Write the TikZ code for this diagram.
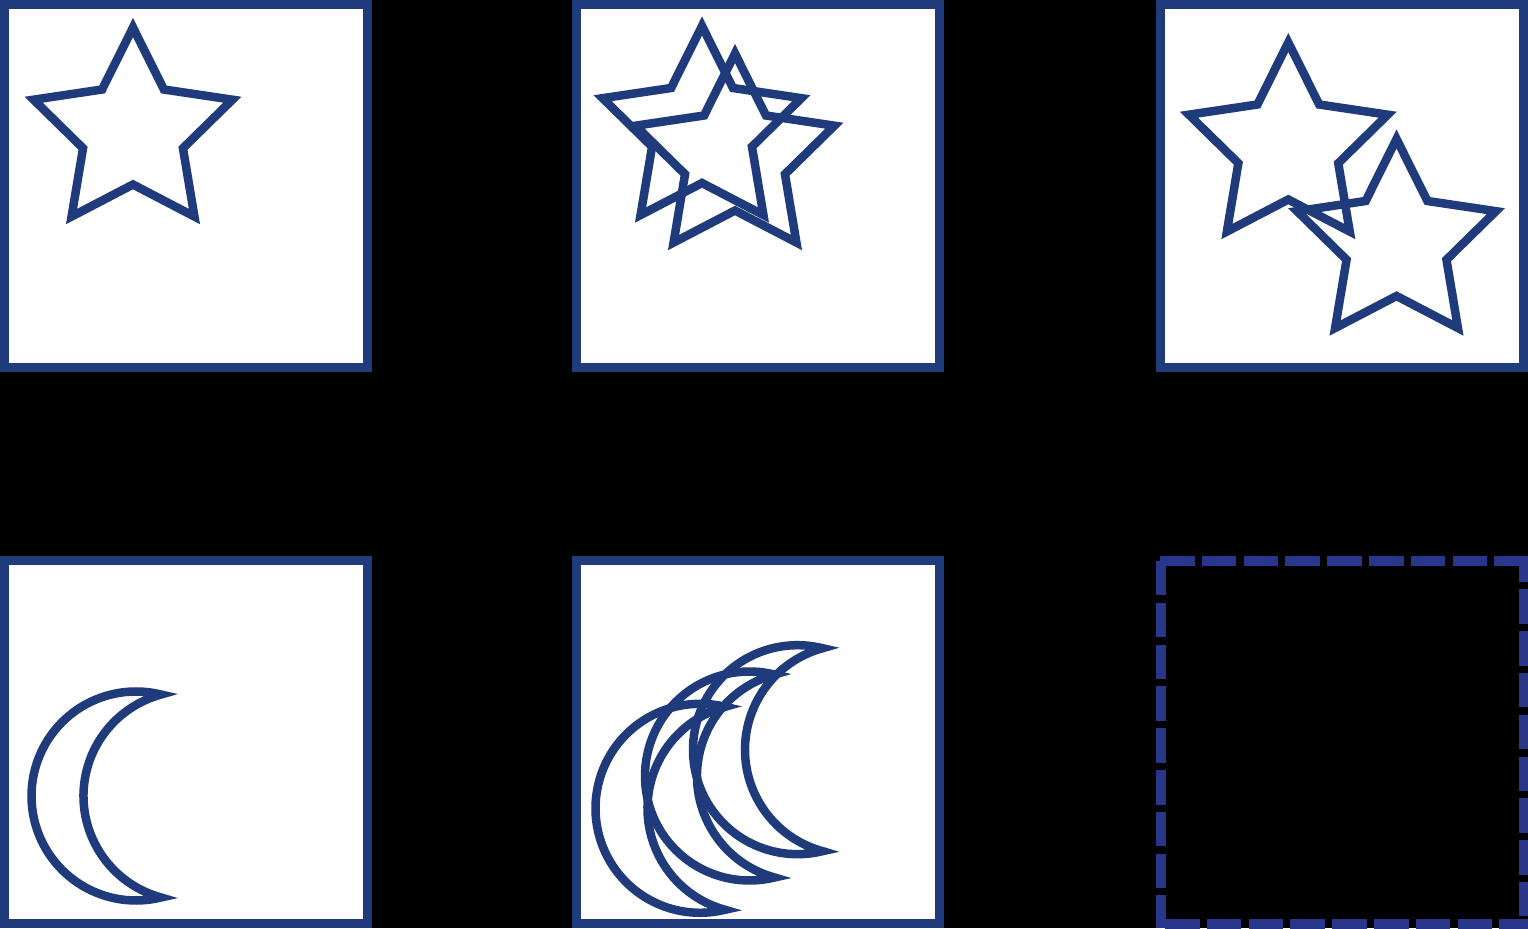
\documentclass[tikz,border=0pt]{standalone}
\usepackage{tikz}
\usetikzlibrary{shapes.geometric}

\definecolor{shapeblue}{HTML}{1F3B7B}
\definecolor{dashblue}{HTML}{283789}

\tikzset{
  panel/.style={draw=shapeblue,line width=1.8mm,fill=white,minimum width=72.6mm,minimum height=72.6mm,inner sep=0pt},
  starshape/.style={star,star points=5,star point ratio=1.99,draw=shapeblue,line width=1.7mm,minimum size=41.8mm,inner sep=0pt},
  moonline/.style={draw=shapeblue,line width=1.7mm},
  dashside/.style={draw=dashblue,line width=2mm,dash pattern=on 6.9mm off 1.46mm},
  moon/.pic={\draw[moonline] (-104.5,0) arc[start angle=180,end angle=283.84,radius=20.9mm]
    arc[start angle=254.75,end angle=105.25,radius=21.034mm]
    arc[start angle=76.16,end angle=180,radius=20.9mm] -- cycle;}
}

\begin{document}
\begin{tikzpicture}[x=0.2mm,y=0.2mm]
\fill[black,use as bounding box] (0,0) rectangle (1528,928);
% top row: stars
\node[panel] (p1) at (186,742) {};
\node[panel] (p2) at (758,742) {};
\node[panel] (p3) at (1342,742) {};
\node[starshape] (st1) at (133,796) {};
\node[starshape] (st2a) at (702,797.5) {};
\node[starshape] (st2b) at (735,770) {};
\node[starshape] (st3a) at (1288.3,781) {};
\node[starshape] (st3b) at (1396.5,684.5) {};
% bottom row: moons
\node[panel] (p4) at (186,186) {};
\node[panel] (p5) at (758,186) {};
\pic at (136,132) {moon};
\foreach \mx/\my in {700/119.7,749.5/152,797.5/178.3}
  \pic at (\mx,\my) {moon};
% empty dashed panel
\draw[dashside] (1160,367) -- (1528,367);
\draw[dashside] (1161,367) -- (1161,0);
\draw[dashside] (1165,4.5) -- (1528,4.5);
\draw[dashside,dash phase=1.7mm] (1523.5,372) -- (1523.5,0);
\end{tikzpicture}
\end{document}
